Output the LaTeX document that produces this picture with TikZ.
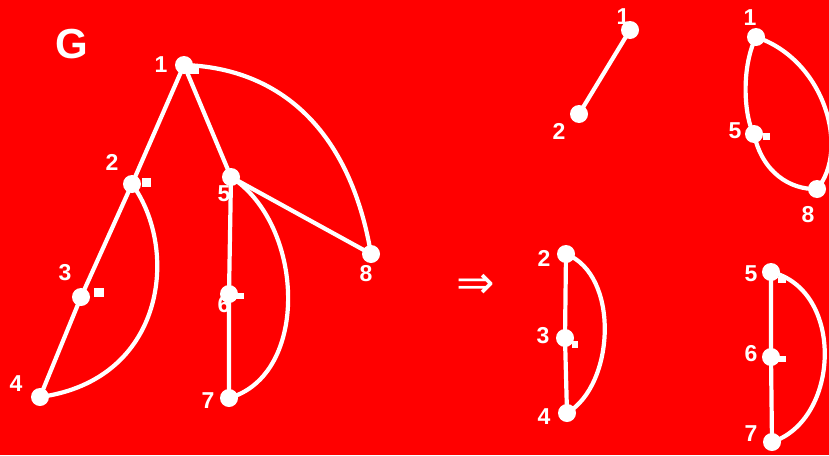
\documentclass[tikz,border=0pt]{standalone}
\usepackage{fontspec}
\setmainfont{Liberation Sans}
\newfontfamily\arrowfont{DejaVu Sans}
\begin{document}
\begin{tikzpicture}[x=1pt,y=-1pt,
  vtx/.style={circle,fill=white,inner sep=0pt,minimum size=18pt},
  lbl/.style={text=white,font=\fontsize{23}{23}\selectfont\bfseries,inner sep=0pt},
  edge/.style={white,line width=4.2pt},
  sqmark/.style={fill=white}]
\useasboundingbox (0,0) rectangle (829,455);
\fill[red] (0,0) rectangle (829,455);
\node[text=white,font=\fontsize{42}{42}\selectfont\bfseries] (G) at (72,44) {G};
% left graph
\node[vtx] (a1) at (184,65) {};
\node[vtx] (a2) at (132,184) {};
\node[vtx] (a3) at (81,297) {};
\node[vtx] (a4) at (40,397) {};
\node[vtx] (a5) at (231,177) {};
\node[vtx] (a6) at (229,294) {};
\node[vtx] (a7) at (229,398) {};
\node[vtx] (a8) at (371,254) {};
\node[lbl] at (161,65) {1};
\node[lbl] at (112,162) {2};
\node[lbl] at (65,273) {3};
\node[lbl] at (16,384) {4};
\node[lbl] at (224,194) {5};
\node[lbl] at (224,305) {6};
\node[lbl] at (208,401) {7};
\node[lbl] at (366,274) {8};
\fill[sqmark] (188,67) rectangle (199,74);
\fill[sqmark] (142,178) rectangle (151,187);
\fill[sqmark] (94,288) rectangle (104,297);
\fill[sqmark] (236,293) rectangle (244,299);
\draw[edge] (a1.center) -- (a2.center) -- (a3.center) -- (a4.center);
\draw[edge] (a1.center) -- (a5.center) -- (a6.center) -- (a7.center);
\draw[edge] (a5.center) -- (a8.center);
\draw[edge] (a1.center) .. controls (280,68) and (350,130) .. (a8.center);
\draw[edge] (a2.center) .. controls (180,250) and (165,380) .. (a4.center);
\draw[edge] (a5.center) .. controls (305,225) and (310,375) .. (a7.center);
% arrow
\node[text=white,font=\arrowfont\fontsize{46}{46}\selectfont,inner sep=0pt] (arr) at (476,286) {⇒};
% top-left component
\node[vtx] (b1) at (630,30) {};
\node[vtx] (b2) at (579,114) {};
\node[lbl] at (623,17) {1};
\node[lbl] at (559,131) {2};
\draw[edge] (b1.center) -- (b2.center);
% top-right component
\node[vtx] (c1) at (756,37) {};
\node[vtx] (c5) at (754,134) {};
\node[vtx] (c8) at (817,189) {};
\node[lbl] at (750,18) {1};
\node[lbl] at (735,131) {5};
\node[lbl] at (808,215) {8};
\fill[sqmark] (763,133) rectangle (770,140);
\draw[edge] (c1.center) .. controls (740,70) and (745,120) .. (c5.center);
\draw[edge] (c5.center) .. controls (762,172) and (790,190) .. (c8.center);
\draw[edge] (c1.center) .. controls (825,60) and (850,150) .. (c8.center);
% bottom-left component
\node[vtx] (d2) at (566,254) {};
\node[vtx] (d3) at (565,338) {};
\node[vtx] (d4) at (567,413) {};
\node[lbl] at (544,258) {2};
\node[lbl] at (543,336) {3};
\node[lbl] at (544,417) {4};
\fill[sqmark] (572,341) rectangle (578,348);
\draw[edge] (d2.center) -- (d3.center) -- (d4.center);
\draw[edge] (d2.center) .. controls (620,275) and (615,385) .. (d4.center);
% bottom-right component
\node[vtx] (e5) at (771,272) {};
\node[vtx] (e6) at (771,357) {};
\node[vtx] (e7) at (772,442) {};
\node[lbl] at (751,274) {5};
\node[lbl] at (751,354) {6};
\node[lbl] at (751,434) {7};
\fill[sqmark] (778,277) rectangle (786,283);
\fill[sqmark] (778,356) rectangle (786,362);
\draw[edge] (e5.center) -- (e6.center) -- (e7.center);
\draw[edge] (e5.center) .. controls (845,290) and (840,420) .. (e7.center);
\end{tikzpicture}
\end{document}
